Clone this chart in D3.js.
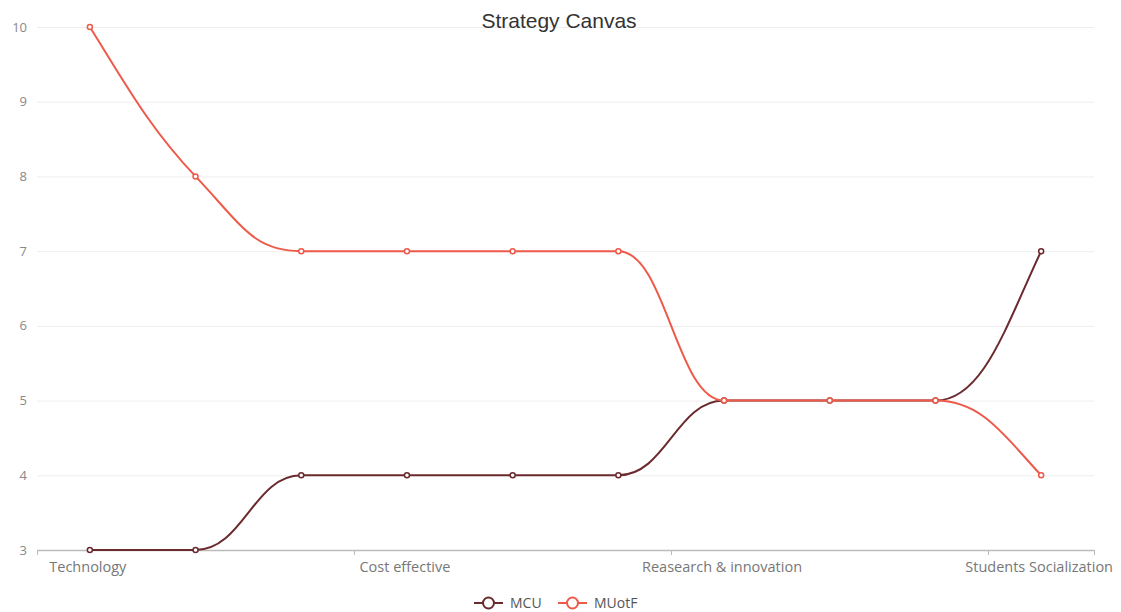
<!DOCTYPE html>
<html><head><meta charset="utf-8">
<script src="https://cdn.jsdelivr.net/npm/d3@7"></script>
<style>body{margin:0;background:#fff}svg{display:block}</style>
</head><body><svg id="c" width="1121" height="612"></svg>
<script>
const categories = ["Technology","c2","c3","Cost effective","c5","c6","Reasearch & innovation","c8","c9","Students Socialization"];
const tickLabels = ["Technology","","","Cost effective","","","Reasearch & innovation","","","Students Socialization"];
const seriesNames = ["MCU","MUotF"];
const mcu = [3,3,4,4,4,4,5,5,5,7];
const muotf = [10,8,7,7,7,7,5,5,5,4];
const yTicks = [3,4,5,6,7,8,9,10];
const colors = ["#6b2a2e","#ee5a4a"];

const svg = d3.select("#c");
const L = 37, R = 1094, T = 27, B = 550;
const x = d3.scaleBand().domain(d3.range(categories.length)).range([L,R]);
const y = d3.scaleLinear().domain([3,10]).range([B,T]);
const font = "'Open Sans', 'Noto Sans', sans-serif";

// smooth curve: monotone tangents, control points at ~half the segment width
function curveSmooth(context){
  let pts;
  return {
    areaStart(){}, areaEnd(){},
    lineStart(){ pts = []; },
    point(px,py){ pts.push([+px,+py]); },
    lineEnd(){
      const n = pts.length; if(!n) return;
      const t = new Array(n).fill(0);
      const s = [];
      for(let i=0;i<n-1;i++) s.push((pts[i+1][1]-pts[i][1])/(pts[i+1][0]-pts[i][0]));
      for(let i=1;i<n-1;i++){
        if(s[i-1]*s[i] <= 0) t[i]=0;
        else { const h0=pts[i][0]-pts[i-1][0], h1=pts[i+1][0]-pts[i][0];
          const p=(s[i-1]*h1+s[i]*h0)/(h0+h1);
          t[i]=(Math.sign(s[i-1])+Math.sign(s[i]))*Math.min(Math.abs(s[i-1]),Math.abs(s[i]),0.5*Math.abs(p)); }
      }
      if(n>1){ t[0]=(3*s[0]-t[1])/2; t[n-1]=(3*s[n-2]-t[n-2])/2; }
      context.moveTo(pts[0][0],pts[0][1]);
      for(let i=0;i<n-1;i++){
        const w=pts[i+1][0]-pts[i][0];
        const h0 = w*(i===0?1/3:0.45), h1 = w*(i===n-2?1/3:0.45);
        context.bezierCurveTo(pts[i][0]+h0, pts[i][1]+t[i]*h0, pts[i+1][0]-h1, pts[i+1][1]-t[i+1]*h1, pts[i+1][0], pts[i+1][1]);
      }
    }
  };
}

// grid
svg.append("g").selectAll("line").data(yTicks.filter(d=>d>3)).join("line")
  .attr("x1",L).attr("x2",R).attr("y1",d=>y(d)+0.5).attr("y2",d=>y(d)+0.5)
  .attr("stroke","#eeeeee").attr("stroke-width",1);

// y labels
svg.append("g").selectAll("text").data(yTicks).join("text")
  .attr("x",27).attr("y",d=>y(d)).attr("dy","0.35em").attr("text-anchor","end")
  .attr("font-family",font).attr("font-size",13).attr("fill","#888").text(d=>d);

// x axis
const xa = svg.append("g");
xa.append("line").attr("x1",L).attr("x2",R).attr("y1",B+0.5).attr("y2",B+0.5).attr("stroke","#bbb").attr("stroke-width",1.5);
const tickIdx = tickLabels.map((t,i)=>t?i:-1).filter(i=>i>=0);
const tickPos = tickIdx.map(i=>x(i)).concat([R]);
xa.selectAll("line.t").data(tickPos).join("line").attr("class","t")
  .attr("x1",d=>Math.round(d)+0.5).attr("x2",d=>Math.round(d)+0.5).attr("y1",B).attr("y2",B+5).attr("stroke","#bbb");
xa.selectAll("text").data(tickIdx).join("text")
  .attr("x",i=>x(i)+x.bandwidth()/2-2).attr("y",B+22).attr("text-anchor","middle")
  .attr("font-family",font).attr("font-size",14.5).attr("fill","#777").text(i=>tickLabels[i]);

// lines
const line = d3.line().x((d,i)=>x(i)+x.bandwidth()/2).y(d=>y(d)).curve(curveSmooth);
[mcu, muotf].forEach((s,k)=>{
  const g = svg.append("g");
  g.append("path").datum(s).attr("d",line).attr("fill","none").attr("stroke",colors[k]).attr("stroke-width",2);
  g.selectAll("circle").data(s).join("circle")
    .attr("cx",(d,i)=>x(i)+x.bandwidth()/2).attr("cy",d=>y(d)).attr("r",2.5)
    .attr("fill","#fff").attr("stroke",colors[k]).attr("stroke-width",1.5);
});

// title
svg.append("text").attr("x",559).attr("y",28).attr("text-anchor","middle")
  .attr("font-family","'Liberation Sans', Arial, sans-serif").attr("font-size",21).attr("fill","#333").text("Strategy Canvas");

// legend
const legX = [474, 558];
seriesNames.forEach((n,k)=>{
  const g = svg.append("g").attr("transform",`translate(${legX[k]},603)`);
  g.append("line").attr("x1",0).attr("x2",29).attr("y1",0).attr("y2",0).attr("stroke",colors[k]).attr("stroke-width",2);
  g.append("circle").attr("cx",14.5).attr("cy",0).attr("r",5.5).attr("fill","#fff").attr("stroke",colors[k]).attr("stroke-width",2);
  g.append("text").attr("x",36).attr("y",0).attr("dy","0.36em").attr("font-family",font).attr("font-size",14).attr("fill","#555").text(n);
});
</script></body></html>
